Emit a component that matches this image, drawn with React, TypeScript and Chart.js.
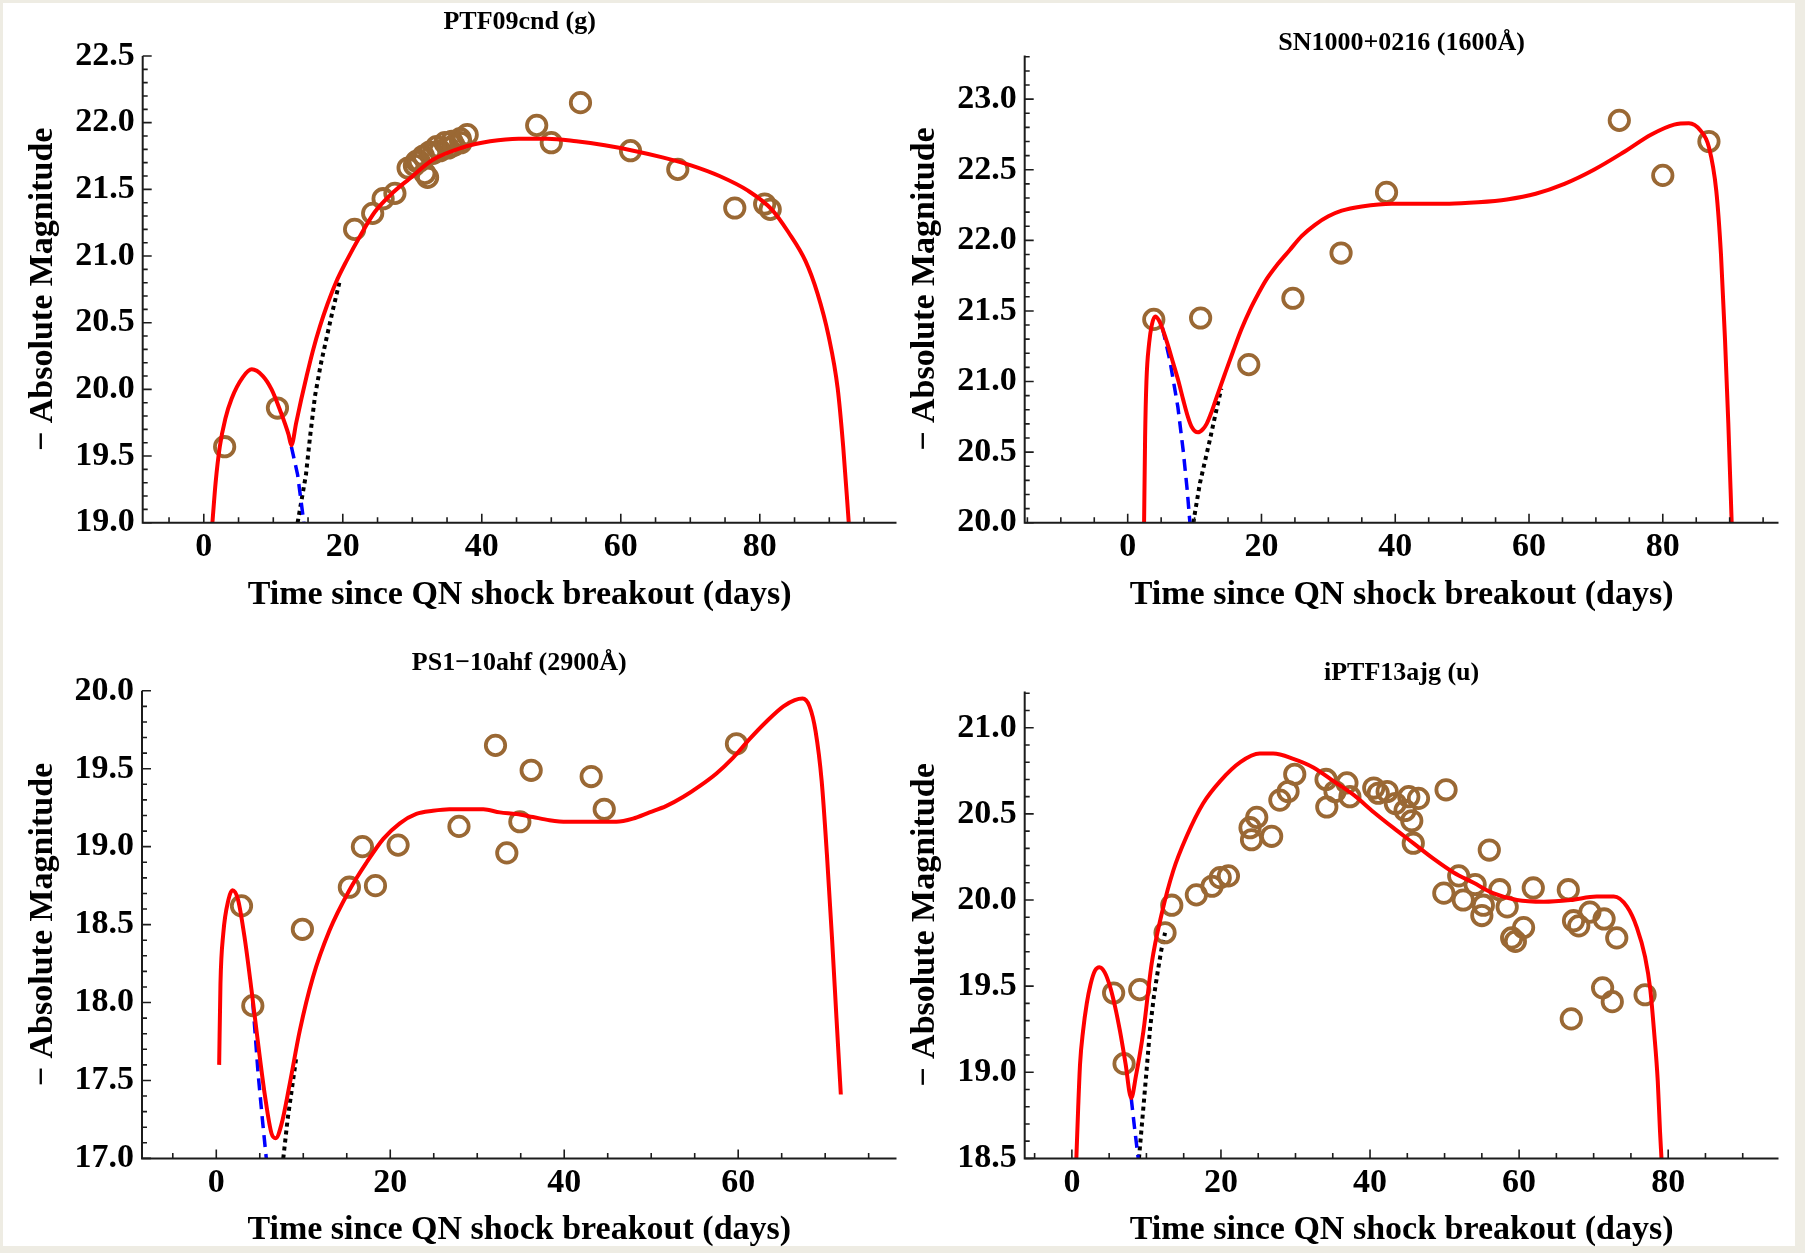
import React, { useEffect, useRef } from "react";
import { Chart, registerables } from "chart.js";

Chart.register(...registerables);

// ---------------- PTF09cnd (g) ----------------
const ptfObsDay = [3.0, 10.6, 21.7, 24.3, 25.8, 27.5, 29.4, 30.3, 30.6, 31.0, 31.6, 31.8, 32.2, 32.5, 33.0, 33.5, 34.0, 34.7, 35.2, 35.7, 36.0, 36.9, 37.0, 37.9, 47.9, 50.0, 54.2, 61.4, 68.2, 76.4, 80.7, 81.5];
const ptfObsMag = [19.57, 19.86, 21.20, 21.32, 21.43, 21.47, 21.66, 21.68, 21.71, 21.71, 21.75, 21.62, 21.59, 21.78, 21.77, 21.82, 21.79, 21.85, 21.81, 21.86, 21.83, 21.88, 21.85, 21.91, 21.98, 21.85, 22.15, 21.79, 21.65, 21.36, 21.39, 21.35];
const ptfModelDay = [1.24, 1.7, 2.3, 3.1, 4.0, 5.6, 6.9, 8.5, 9.75, 11.0, 12.2, 12.6, 13.3, 14.0, 14.8, 15.7, 16.7, 17.8, 19.0, 20.5, 22.6, 24.6, 27.1, 29.6, 32.9, 37.0, 41.2, 45.3, 49.4, 53.6, 57.7, 61.8, 66.0, 70.1, 74.2, 78.3, 81.7, 84.1, 86.6, 88.3, 89.9, 91.2, 92.0, 92.8];
const ptfModelMag = [19.0, 19.3, 19.57, 19.78, 19.93, 20.09, 20.15, 20.10, 20.0, 19.84, 19.66, 19.58, 19.75, 19.92, 20.10, 20.29, 20.47, 20.64, 20.80, 20.96, 21.16, 21.33, 21.47, 21.58, 21.72, 21.81, 21.86, 21.88, 21.88, 21.86, 21.83, 21.79, 21.74, 21.68, 21.60, 21.49, 21.35, 21.18, 20.96, 20.72, 20.40, 20.01, 19.57, 19.0];
const ptfShockDay = [12.6, 13.5, 14.4];
const ptfShockMag = [19.57, 19.36, 19.0];
const ptfSnDay = [13.5, 14.0, 14.7, 15.3, 16.0, 16.8, 17.6, 18.5, 19.5];
const ptfSnMag = [19.0, 19.15, 19.36, 19.65, 19.95, 20.18, 20.37, 20.58, 20.8];
const ptfXTicks = [0, 20, 40, 60, 80];
const ptfYTicks = [19.0, 19.5, 20.0, 20.5, 21.0, 21.5, 22.0, 22.5];

// ---------------- SN1000+0216 (1600Å) ----------------
const snlsObsDay = [3.9, 10.9, 18.1, 24.7, 31.9, 38.7, 73.5, 80.0, 86.9];
const snlsObsMag = [21.44, 21.45, 21.12, 21.59, 21.91, 22.34, 22.85, 22.46, 22.70];
const snlsModelDay = [2.45, 2.6, 2.8, 3.2, 3.6, 4.1, 4.7, 5.3, 6.0, 6.8, 7.6, 8.3, 9.0, 9.55, 10.5, 11.2, 11.8, 12.5, 13.3, 14.5, 15.8, 17.0, 18.3, 19.5, 20.7, 22.4, 24.2, 26.0, 28.0, 30.0, 32.0, 35.0, 39.5, 43.8, 48.1, 52.4, 56.7, 61.0, 65.3, 69.7, 74.0, 78.3, 81.7, 83.9, 85.6, 86.9, 88.0, 88.7, 89.3, 89.8, 90.3];
const snlsModelMag = [20.0, 20.6, 21.0, 21.27, 21.40, 21.46, 21.43, 21.36, 21.26, 21.13, 21.0, 20.87, 20.75, 20.68, 20.64, 20.66, 20.70, 20.78, 20.89, 21.05, 21.22, 21.37, 21.51, 21.62, 21.72, 21.83, 21.93, 22.03, 22.11, 22.17, 22.21, 22.24, 22.26, 22.26, 22.26, 22.27, 22.29, 22.33, 22.40, 22.50, 22.62, 22.75, 22.82, 22.83, 22.78, 22.66, 22.35, 21.9, 21.3, 20.7, 20.0];
const snlsShockDay = [5.2, 6.3, 7.5, 8.3, 8.9, 9.3];
const snlsShockMag = [21.38, 21.15, 20.82, 20.51, 20.23, 20.0];
const snlsSnDay = [9.8, 10.8, 12.3, 13.5, 14.0];
const snlsSnMag = [20.0, 20.28, 20.59, 20.85, 20.95];
const snlsXTicks = [0, 20, 40, 60, 80];
const snlsYTicks = [20.0, 20.5, 21.0, 21.5, 22.0, 22.5, 23.0];

// ---------------- PS1-10ahf (2900Å) ----------------
const psObsDay = [2.9, 4.2, 9.9, 15.3, 16.8, 18.3, 20.9, 27.9, 32.1, 33.4, 34.9, 36.2, 43.1, 44.6, 59.8];
const psObsMag = [18.62, 17.98, 18.47, 18.74, 19.00, 18.75, 19.01, 19.13, 19.65, 18.96, 19.16, 19.49, 19.45, 19.24, 19.66];
const psModelDay = [0.33, 0.48, 0.8, 1.4, 1.86, 2.5, 3.3, 4.05, 4.8, 5.6, 6.35, 6.84, 7.5, 8.45, 9.6, 11.1, 13.0, 15.3, 17.3, 19.2, 21.1, 23.0, 24.9, 26.8, 28.8, 30.7, 32.6, 34.5, 36.4, 38.3, 40.3, 42.2, 44.1, 46.0, 47.9, 49.8, 51.7, 53.7, 55.6, 57.5, 59.4, 61.3, 63.2, 65.2, 66.5, 67.4, 68.2, 68.9, 69.6, 70.2, 70.8, 71.3, 71.8];
const psModelMag = [17.60, 18.12, 18.44, 18.66, 18.72, 18.66, 18.40, 18.08, 17.74, 17.40, 17.16, 17.13, 17.22, 17.48, 17.82, 18.16, 18.46, 18.72, 18.90, 19.05, 19.15, 19.21, 19.23, 19.24, 19.24, 19.24, 19.22, 19.21, 19.19, 19.17, 19.16, 19.16, 19.16, 19.16, 19.18, 19.22, 19.26, 19.32, 19.39, 19.47, 19.57, 19.69, 19.80, 19.90, 19.94, 19.95, 19.90, 19.74, 19.42, 18.95, 18.4, 17.9, 17.41];
const psShockDay = [4.2, 4.8, 5.3, 5.75];
const psShockMag = [18.0, 17.55, 17.25, 17.0];
const psSnDay = [7.7, 8.2, 8.7, 9.2];
const psSnMag = [17.0, 17.25, 17.45, 17.65];
const psXTicks = [0, 20, 40, 60];
const psYTicks = [17.0, 17.5, 18.0, 18.5, 19.0, 19.5, 20.0];

// ---------------- iPTF13ajg (u) ----------------
const iptfObsDay = [5.6, 7.0, 9.1, 12.5, 13.4, 16.7, 18.8, 19.9, 21.0, 23.9, 24.1, 24.8, 26.8, 27.9, 29.0, 29.9, 34.1, 34.2, 35.3, 36.9, 37.3, 40.5, 41.1, 42.3, 43.4, 44.7, 45.2, 46.5, 45.6, 45.8, 50.2, 49.9, 51.9, 52.5, 54.1, 55.0, 55.2, 56.0, 57.4, 58.4, 59.0, 59.5, 60.6, 61.9, 66.6, 67.3, 68.0, 69.5, 71.4, 73.1, 71.2, 72.5, 67.0, 76.9];
const iptfObsMag = [19.46, 19.05, 19.48, 19.81, 19.97, 20.03, 20.08, 20.13, 20.14, 20.42, 20.35, 20.48, 20.37, 20.58, 20.63, 20.73, 20.70, 20.54, 20.63, 20.68, 20.60, 20.65, 20.62, 20.63, 20.56, 20.52, 20.60, 20.59, 20.46, 20.33, 20.64, 20.04, 20.14, 20.00, 20.09, 19.91, 19.97, 20.29, 20.06, 19.96, 19.78, 19.76, 19.84, 20.07, 20.06, 19.88, 19.85, 19.93, 19.89, 19.78, 19.49, 19.41, 19.31, 19.45];
const iptfModelDay = [0.6, 0.85, 1.1, 1.5, 2.0, 2.5, 3.1, 3.7, 4.4, 5.1, 5.8, 6.45, 7.2, 7.96, 8.6, 9.6, 10.7, 12.05, 13.6, 15.4, 17.6, 19.9, 22.6, 25.2, 27.0, 29.7, 32.4, 35.1, 37.8, 40.5, 43.1, 45.8, 48.5, 51.2, 53.9, 56.5, 59.7, 63.3, 66.9, 70.4, 72.7, 74.5, 75.8, 76.9, 77.6, 78.1, 78.6, 78.9, 79.1];
const iptfModelMag = [18.5, 18.8, 19.05, 19.24, 19.40, 19.51, 19.59, 19.61, 19.58, 19.50, 19.38, 19.24, 19.05, 18.85, 18.98, 19.24, 19.63, 19.92, 20.17, 20.37, 20.56, 20.69, 20.80, 20.85, 20.85, 20.82, 20.77, 20.69, 20.61, 20.51, 20.42, 20.33, 20.24, 20.16, 20.10, 20.04, 20.0, 19.99, 20.0, 20.02, 20.02, 19.96, 19.84, 19.67, 19.48, 19.24, 18.95, 18.66, 18.5];
const iptfShockDay = [7.96, 8.4, 8.9];
const iptfShockMag = [18.85, 18.68, 18.5];
const iptfSnDay = [9.0, 9.6, 10.0, 10.5, 11.0, 11.5, 12.0, 12.5];
const iptfSnMag = [18.5, 18.8, 19.0, 19.26, 19.44, 19.58, 19.71, 19.81];
const iptfXTicks = [0, 20, 40, 60, 80];
const iptfYTicks = [18.5, 19.0, 19.5, 20.0, 20.5, 21.0];

// ---------------- helpers ----------------
const SERIF = "'Liberation Serif', 'Times New Roman', serif";
const BROWN = "#9a6834";

const zip = (xs: number[], ys: number[]) => xs.map((x, i) => ({ x, y: ys[i] }));

const mmaAxes = {
  id: "mmaAxes",
  afterDraw(chart: any, _args: any, opts: any) {
    const { ctx, chartArea: a, scales } = chart;
    const xs = scales.x;
    const ys = scales.y;
    const eps = 1e-6;
    ctx.save();
    ctx.strokeStyle = "#1c1c1c";
    ctx.lineWidth = 2;
    ctx.beginPath();
    ctx.moveTo(a.left, a.top);
    ctx.lineTo(a.left, a.bottom);
    ctx.lineTo(a.right, a.bottom);
    ctx.stroke();
    ctx.lineWidth = 1.6;
    ctx.beginPath();
    for (let k = Math.ceil(xs.min / opts.xMinor - eps); k * opts.xMinor <= xs.max + eps; k++) {
      const v = k * opts.xMinor;
      const px = xs.getPixelForValue(v);
      const major = Math.abs(v / opts.xMajor - Math.round(v / opts.xMajor)) < eps;
      const len = major ? 9 : 5.5;
      ctx.moveTo(px, a.bottom);
      ctx.lineTo(px, a.bottom - len);
    }
    for (let k = Math.ceil(ys.min / opts.yMinor - eps); k * opts.yMinor <= ys.max + eps; k++) {
      const v = k * opts.yMinor;
      const py = ys.getPixelForValue(v);
      const major = Math.abs(v / opts.yMajor - Math.round(v / opts.yMajor)) < 1e-4;
      const len = major ? 9 : 5;
      ctx.moveTo(a.left, py);
      ctx.lineTo(a.left + len, py);
    }
    ctx.stroke();
    ctx.fillStyle = "#000";
    ctx.font = `bold 26px ${SERIF}`;
    ctx.textAlign = "center";
    ctx.textBaseline = "middle";
    ctx.fillText(opts.title, (a.left + a.right) / 2, opts.titleY);
    ctx.restore();
  },
};

type Pt = { x: number; y: number };
type Spec = {
  left: number; top: number; width: number; height: number;
  padT: number; padR: number; yW: number; xH: number;
  xMin: number; xMax: number; yMin: number; yMax: number;
  yTitlePad: number; xTitlePad: number; xTickPad: number;
  title: string; titleY: number;
  xTicks: number[]; yTicks: number[];
  obs: Pt[]; model: Pt[]; shock: Pt[]; sn: Pt[];
};

function Panel({ spec }: { spec: Spec }) {
  const ref = useRef<HTMLCanvasElement>(null);
  useEffect(() => {
    const tickFont = { family: SERIF, size: 34, weight: "bold" as const };
    const chart = new Chart(ref.current as HTMLCanvasElement, {
      type: "scatter",
      data: {
        datasets: [
          {
            label: "model",
            data: spec.model,
            showLine: true,
            borderColor: "#ff0000",
            borderWidth: 4,
            pointRadius: 0,
            cubicInterpolationMode: "monotone",
            fill: false,
          } as any,
          {
            label: "data",
            data: spec.obs,
            showLine: false,
            pointStyle: "circle",
            pointRadius: 9.7,
            pointBorderWidth: 3.8,
            pointBorderColor: BROWN,
            pointBackgroundColor: "rgba(0,0,0,0)",
            borderColor: BROWN,
            backgroundColor: "rgba(0,0,0,0)",
          } as any,
          {
            label: "shock",
            data: spec.shock,
            showLine: true,
            borderColor: "#0000ff",
            borderWidth: 3.5,
            borderDash: [12, 7],
            pointRadius: 0,
          } as any,
          {
            label: "sn",
            data: spec.sn,
            showLine: true,
            borderColor: "#000000",
            borderWidth: 4,
            borderDash: [4, 4],
            pointRadius: 0,
          } as any,
        ],
      },
      options: {
        responsive: false,
        animation: false,
        events: [],
        layout: { autoPadding: false, padding: { left: 0, top: spec.padT, right: spec.padR, bottom: 0 } },
        plugins: {
          legend: { display: false },
          tooltip: { enabled: false },
          title: { display: false },
          mmaAxes: {
            xMinor: 5, xMajor: 20, yMinor: 0.1, yMajor: 0.5,
            title: spec.title, titleY: spec.titleY,
          },
        } as any,
        scales: {
          x: {
            type: "linear",
            position: "bottom",
            min: spec.xMin,
            max: spec.xMax,
            afterFit: (s: any) => { s.height = spec.xH; },
            afterBuildTicks: (s: any) => { s.ticks = spec.xTicks.map((v) => ({ value: v })); },
            grid: { display: false, drawTicks: false },
            border: { display: false },
            ticks: {
              autoSkip: false, maxRotation: 0, minRotation: 0,
              padding: spec.xTickPad, color: "#000", font: tickFont,
              callback: (v: any) => String(Math.round(Number(v))),
            },
            title: {
              display: true,
              text: "Time since QN shock breakout (days)",
              color: "#000",
              font: tickFont,
              padding: { top: 0, bottom: spec.xTitlePad },
            },
          } as any,
          y: {
            type: "linear",
            position: "left",
            min: spec.yMin,
            max: spec.yMax,
            afterFit: (s: any) => { s.width = spec.yW; },
            afterBuildTicks: (s: any) => { s.ticks = spec.yTicks.map((v) => ({ value: v })); },
            grid: { display: false, drawTicks: false },
            border: { display: false },
            ticks: {
              autoSkip: false, padding: 8, color: "#000", font: tickFont,
              callback: (v: any) => Number(v).toFixed(1),
            },
            title: {
              display: true,
              text: "\u2212 Absolute Magnitude",
              color: "#000",
              font: tickFont,
              padding: { top: spec.yTitlePad, bottom: 0 },
            },
          } as any,
        },
      },
      plugins: [mmaAxes],
    });
    return () => chart.destroy();
  }, [spec]);
  return (
    <canvas
      ref={ref}
      width={spec.width}
      height={spec.height}
      style={{ position: "absolute", left: spec.left, top: spec.top, width: spec.width, height: spec.height, display: "block" }}
    />
  );
}

const specs: Spec[] = [
  {
    left: 0, top: 0, width: 902, height: 626, padT: 56, padR: 5.5, yW: 142.7, xH: 103.3,
    xMin: -8.79, xMax: 99.67, yMin: 19, yMax: 22.5, yTitlePad: 22.6, xTitlePad: 10.6, xTickPad: 4.5,
    title: "PTF09cnd (g)", titleY: 22.7, xTicks: ptfXTicks, yTicks: ptfYTicks,
    obs: zip(ptfObsDay, ptfObsMag), model: zip(ptfModelDay, ptfModelMag),
    shock: zip(ptfShockDay, ptfShockMag), sn: zip(ptfSnDay, ptfSnMag),
  },
  {
    left: 902, top: 0, width: 903, height: 626, padT: 55.4, padR: 26.5, yW: 122.7, xH: 103.3,
    xMin: -15.4, xMax: 97.3, yMin: 20, yMax: 23.31, yTitlePad: 2.6, xTitlePad: 10.6, xTickPad: 4.5,
    title: "SN1000+0216 (1600\u00c5)", titleY: 43.5, xTicks: snlsXTicks, yTicks: snlsYTicks,
    obs: zip(snlsObsDay, snlsObsMag), model: zip(snlsModelDay, snlsModelMag),
    shock: zip(snlsShockDay, snlsShockMag), sn: zip(snlsSnDay, snlsSnMag),
  },
  {
    left: 0, top: 626, width: 902, height: 627, padT: 64.8, padR: 5.5, yW: 142, xH: 94.6,
    xMin: -8.54, xMax: 78.2, yMin: 17, yMax: 20, yTitlePad: 22.6, xTitlePad: 2.6, xTickPad: 4,
    title: "PS1\u221210ahf (2900\u00c5)", titleY: 37, xTicks: psXTicks, yTicks: psYTicks,
    obs: zip(psObsDay, psObsMag), model: zip(psModelDay, psModelMag),
    shock: zip(psShockDay, psShockMag), sn: zip(psSnDay, psSnMag),
  },
  {
    left: 902, top: 626, width: 903, height: 627, padT: 65.6, padR: 26.5, yW: 122.7, xH: 94.6,
    xMin: -6.33, xMax: 94.8, yMin: 18.5, yMax: 21.21, yTitlePad: 2.6, xTitlePad: 2.6, xTickPad: 4,
    title: "iPTF13ajg (u)", titleY: 47.7, xTicks: iptfXTicks, yTicks: iptfYTicks,
    obs: zip(iptfObsDay, iptfObsMag), model: zip(iptfModelDay, iptfModelMag),
    shock: zip(iptfShockDay, iptfShockMag), sn: zip(iptfSnDay, iptfSnMag),
  },
];

export default function App() {
  return (
    <div style={{ position: "absolute", left: 0, top: 0, width: 1805, height: 1253, background: "#eeece3", overflow: "hidden" }}>
      <div style={{ position: "absolute", left: 3, top: 3, width: 1792, height: 1243, background: "#ffffff" }} />
      {specs.map((s, i) => (
        <Panel key={i} spec={s} />
      ))}
    </div>
  );
}
